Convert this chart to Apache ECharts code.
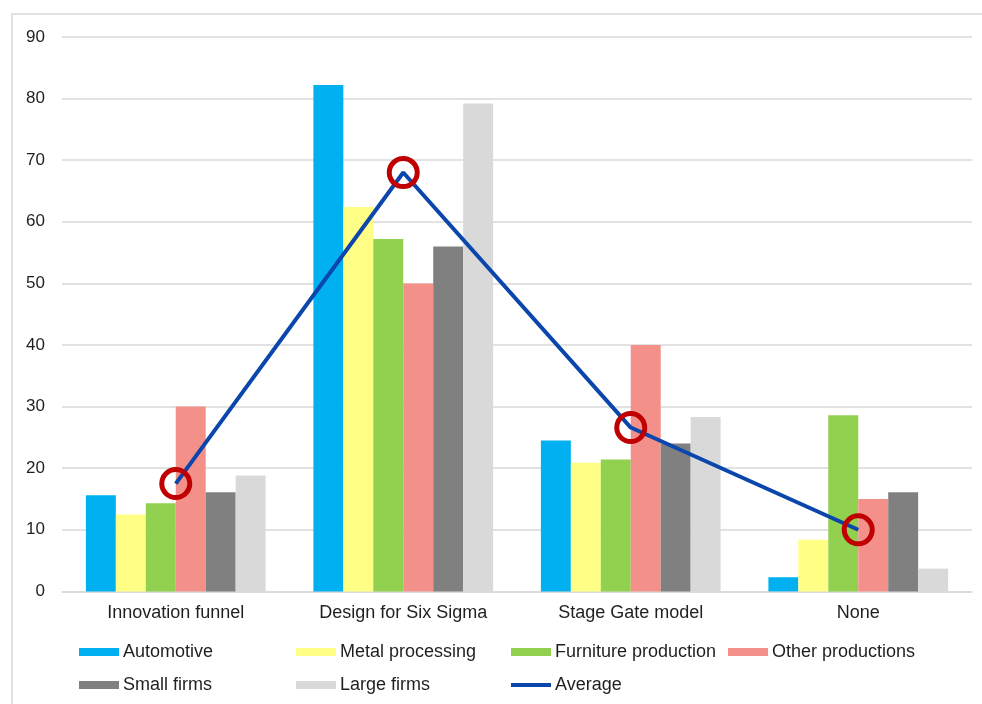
<!DOCTYPE html>
<html>
<head>
<meta charset="utf-8">
<title>Innovation methods by sector</title>
<script src="https://cdn.jsdelivr.net/npm/echarts@6/dist/echarts.min.js"></script>
<style>
  html, body { margin: 0; padding: 0; background: #fff; }
  #chart { width: 982px; height: 704px; }
</style>
</head>
<body>
<div id="chart"></div>
<script>
// Methods on the category axis
const categories = ['Innovation funnel', 'Design for Six Sigma', 'Stage Gate model', 'None'];

// Share of firms (%) using each method, per group
const automotive = [15.6, 82.2, 24.5, 2.3];
const metalProcessing = [12.5, 62.4, 20.9, 8.4];
const furnitureProduction = [14.3, 57.2, 21.4, 28.6];
const otherProductions = [30.0, 50.0, 40.0, 15.0];
const smallFirms = [16.1, 56.0, 24.0, 16.1];
const largeFirms = [18.8, 79.2, 28.3, 3.7];
const average = [17.5, 68.0, 26.6, 10.0];

// Value axis range
const yMin = 0;
const yMax = 90;
const yStep = 10;

const barSeries = [
  { name: 'Automotive', data: automotive, color: '#00B0F0' },
  { name: 'Metal processing', data: metalProcessing, color: '#FFFF85' },
  { name: 'Furniture production', data: furnitureProduction, color: '#92D050' },
  { name: 'Other productions', data: otherProductions, color: '#F4908A' },
  { name: 'Small firms', data: smallFirms, color: '#808080' },
  { name: 'Large firms', data: largeFirms, color: '#D9D9D9' }
];

const lineColor = '#0B46AC';
const textColor = '#1f1f1f';

// Legend entries on a fixed column grid (swatch left edge, row centre)
const legendSlots = [
  { name: 'Automotive', left: 79, cy: 652 },
  { name: 'Metal processing', left: 296, cy: 652 },
  { name: 'Furniture production', left: 511, cy: 652 },
  { name: 'Other productions', left: 728, cy: 652 },
  { name: 'Small firms', left: 79, cy: 685 },
  { name: 'Large firms', left: 296, cy: 685 },
  { name: 'Average', left: 511, cy: 685 }
];

const legends = legendSlots.map(s => {
  const isLine = s.name === 'Average';
  const lg = {
    left: s.left, top: s.cy - 9,
    padding: 0,
    itemWidth: 40, itemHeight: isLine ? 4 : 8,
    icon: 'rect',
    selectedMode: false,
    textStyle: { color: textColor, fontSize: 18, lineHeight: 18, padding: [0, 0, 0, -1] }
  };
  if (isLine) {
    lg.data = [{ name: s.name, icon: 'rect',
                 itemStyle: { color: lineColor, borderWidth: 0, borderColor: lineColor } }];
    lg.itemStyle = { color: lineColor, borderWidth: 0 };
    lg.lineStyle = { width: 0, opacity: 0 };
  } else {
    lg.data = [s.name];
  }
  return lg;
});

const chart = echarts.init(document.getElementById('chart'), null, { renderer: 'canvas' });

chart.setOption({
  backgroundColor: '#fff',
  animation: false,
  textStyle: { fontFamily: '"Liberation Sans", Arial, sans-serif' },
  graphic: [{
    type: 'rect',
    shape: { x: 12, y: 14, width: 990, height: 720 },
    style: { fill: 'none', stroke: '#D9D9D9', lineWidth: 1.5 },
    silent: true,
    z: -10
  }],
  grid: { left: 62, right: 10, top: 37, bottom: 112.6 },
  legend: legends,
  xAxis: {
    type: 'category',
    data: categories,
    axisLine: { show: true, lineStyle: { color: '#D9D9D9', width: 1.5 } },
    axisTick: { show: false },
    axisLabel: { color: textColor, fontSize: 18, margin: 13 }
  },
  yAxis: {
    type: 'value',
    min: yMin, max: yMax, interval: yStep,
    axisLine: { show: false },
    axisTick: { show: false },
    axisLabel: { color: textColor, fontSize: 17, margin: 17 },
    splitLine: { lineStyle: { color: '#D9D9D9', width: 1.5 } }
  },
  series: barSeries.map(s => ({
    name: s.name,
    type: 'bar',
    data: s.data,
    barGap: '0%',
    barCategoryGap: '21%',
    itemStyle: { color: s.color },
    z: 2
  })).concat([{
    name: 'Average',
    type: 'line',
    data: average,
    symbol: 'circle',
    symbolSize: 28,
    lineStyle: { color: lineColor, width: 4 },
    itemStyle: { color: 'rgba(0,0,0,0)', borderColor: '#C00000', borderWidth: 5 },
    z: 5
  }])
});
</script>
</body>
</html>
